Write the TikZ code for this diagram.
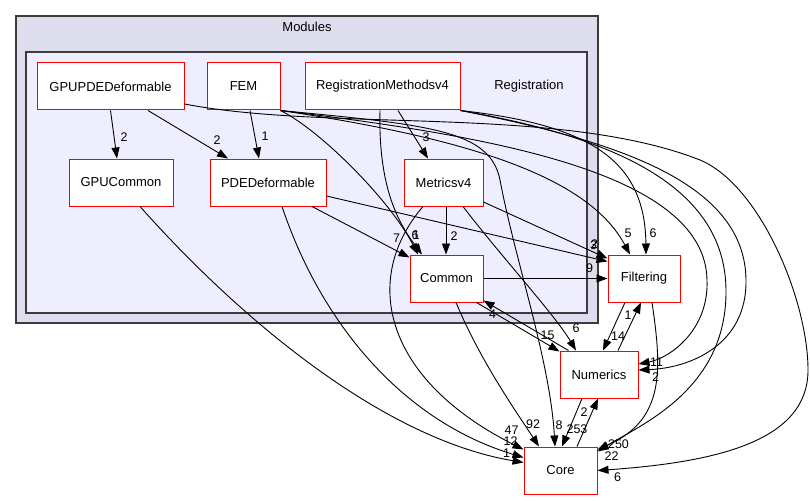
\documentclass[tikz,border=0pt]{standalone}
\usepackage{fontspec}
\setmainfont{Liberation Sans}
\usetikzlibrary{arrows.meta}
\usetikzlibrary{calc}

\begin{document}
\begin{tikzpicture}[x=1pt,y=-1pt,
    dirnode/.style={draw=dred,fill=white,line width=1pt,minimum height=47pt,inner sep=0pt,font=\fontsize{13}{15}\selectfont},
    cluster/.style={draw=dgray,line width=1.5pt,inner sep=0pt},
    cluslabel/.style={font=\fontsize{13}{15}\selectfont},
    edge/.style={-{Triangle[length=11pt,width=8pt]},line width=0.9pt},
    lbl/.style={pos=1,inner sep=0pt,font=\fontsize{12.5}{14}\selectfont}]
\definecolor{dred}{RGB}{255,0,0}
\definecolor{dgray}{RGB}{60,60,60}
\definecolor{outerfill}{RGB}{221,221,238}
\definecolor{innerfill}{RGB}{238,238,255}

\useasboundingbox (0,0) rectangle (810,500);

% clusters
\node[cluster,fill=outerfill,minimum width=582pt,minimum height=307pt] (modules) at (307,169.5) {};
\node[cluster,fill=innerfill,minimum width=561pt,minimum height=261pt] (registration) at (306.5,182.5) {};
\node[cluslabel] (modlabel) at (307,27) {Modules};
\node[cluslabel] (reglabel) at (529,86) {Registration};

% directories
\node[dirnode,minimum width=147pt] (gpupde) at (110.5,86.5) {GPUPDEDeformable};
\node[dirnode,minimum width=73pt] (fem) at (243.5,86.5) {FEM};
\node[dirnode,minimum width=155pt] (regm) at (382.5,86.5) {RegistrationMethodsv4};
\node[dirnode,minimum width=104pt] (gpucommon) at (121,182.5) {GPUCommon};
\node[dirnode,minimum width=116pt] (pde) at (268,182.5) {PDEDeformable};
\node[dirnode,minimum width=79pt] (metrics) at (443.5,182.5) {Metricsv4};
\node[dirnode,minimum width=73pt] (common) at (446.5,278.5) {Common};
\node[dirnode,minimum width=72pt] (filtering) at (644,278.5) {Filtering};
\node[dirnode,minimum width=78pt] (numerics) at (599,374.5) {Numerics};
\node[dirnode,minimum width=73pt] (core) at (560.5,470.5) {Core};

% inside Registration
\draw[edge] (gpupde.south) -- ([xshift=-4pt]gpucommon.north) node[lbl,xshift=7pt,yshift=21pt] {2};
\draw[edge] ([xshift=37.5pt]gpupde.south) -- ([xshift=-40pt]pde.north) node[lbl,xshift=-11pt,yshift=18pt] {2};
\draw[edge] ([xshift=6.5pt]fem.south) -- ([xshift=-9pt]pde.north) node[lbl,xshift=6pt,yshift=22pt] {1};
\draw[edge] ([xshift=15.5pt]regm.south) -- ([xshift=-15.5pt]metrics.north) node[lbl,xshift=-2pt,yshift=21pt] {3};
\draw[edge] ([xshift=2.5pt]metrics.south) -- ([xshift=-0.5pt]common.north) node[lbl,xshift=8pt,yshift=18pt] {2};
\draw[edge] ([xshift=44pt]pde.south) -- ([yshift=-3pt]common.north west) node[lbl,xshift=-13pt,yshift=19pt] {7};
\draw[edge] (fem.south east) .. controls (320,130) and (390,200) .. ([xshift=-28.5pt]common.north) node[lbl,xshift=-3pt,yshift=19pt] {6};
\draw[edge] ([xshift=-2.5pt]regm.south) .. controls (378,190) and (400,225) .. ([xshift=-24.5pt]common.north) node[lbl,xshift=-6pt,yshift=19pt] {1};

% to Filtering
\draw[edge] ([yshift=-13.5pt]pde.east) -- ([yshift=-7pt]filtering.north west) node[lbl,xshift=-14pt,yshift=16pt] {3};
\draw[edge] ([yshift=-19.5pt]metrics.east) -- ([yshift=-4pt]filtering.north west) node[lbl,xshift=-13pt,yshift=14pt] {2};
\draw[edge] (common.east) -- (filtering.west) node[lbl,xshift=-18pt,yshift=10pt] {9};
\draw[edge] (fem.south east) .. controls (480,140) and (590,180) .. ([xshift=-14pt]filtering.north) node[lbl,xshift=-2pt,yshift=21pt] {5};
\draw[edge] (regm.south east) .. controls (590,125) and (645,160) .. ([xshift=2pt]filtering.north) node[lbl,xshift=7pt,yshift=21pt] {6};

% long ones on the right
\draw[edge] (fem.south east) .. controls (480,135) and (705,170) .. (707,280) .. controls (709,330) and (670,358) .. ([yshift=10.5pt]numerics.east) node[lbl,xshift=18pt,yshift=2pt] {11};
\draw[edge] (regm.south east) .. controls (610,140) and (745,180) .. (746,280) .. controls (747,345) and (690,368) .. ([yshift=4.5pt]numerics.east) node[lbl,xshift=17pt,yshift=-7pt] {2};
\draw[edge] (regm.south east) .. controls (600,135) and (725,180) .. (726,290) .. controls (727,390) and (640,425) .. ([yshift=-5pt]core.north east) node[lbl,xshift=14pt,yshift=-5pt] {22};
\draw[edge] ([xshift=8pt]filtering.south) .. controls (662,370) and (665,420) .. ([yshift=-3pt]core.north east) node[lbl,xshift=21pt,yshift=5pt] {250};
\draw[edge] ([yshift=-17.5pt]gpupde.east) .. controls (330,132) and (560,105) .. (700,160) .. controls (760,185) and (808,300) .. (808,370) .. controls (808,440) and (720,462) .. (core.east) node[lbl,xshift=20pt,yshift=-7pt] {6};

% down to Core
\draw[edge] (fem.south east) .. controls (430,125) and (490,130) .. (500,180) .. controls (515,260) and (550,360) .. ([xshift=-5.5pt]core.north) node[lbl,xshift=4pt,yshift=21pt] {8};
\draw[edge] ([xshift=9.5pt]common.south) .. controls (480,360) and (515,410) .. ([xshift=-21.5pt]core.north) node[lbl,xshift=-6pt,yshift=22pt] {92};
\draw[edge] ([xshift=-20.5pt]metrics.south) .. controls (360,280) and (385,380) .. ([yshift=-3pt]core.north west) node[lbl,xshift=-12pt,yshift=19pt] {47};
\draw[edge] ([xshift=14pt]pde.south) .. controls (320,320) and (400,420) .. ([yshift=-11pt]core.north west) node[lbl,xshift=-13pt,yshift=16pt] {12};
\draw[edge] ([xshift=19pt]gpucommon.south) .. controls (250,330) and (390,440) .. ([yshift=-16pt]core.north west) node[lbl,xshift=-17pt,yshift=9pt] {1};

% Numerics
\draw[edge] ([xshift=-17pt]numerics.south) -- ([xshift=1.5pt]core.north) node[lbl,xshift=15pt,yshift=17pt] {253};
\draw[edge] ([xshift=16.5pt]core.north) -- ([xshift=-1pt]numerics.south) node[lbl,xshift=-14pt,yshift=-14pt] {2};
\draw[edge] ([xshift=-19pt]filtering.south) -- ([xshift=4pt]numerics.north) node[lbl,xshift=15pt,yshift=14pt] {14};
\draw[edge] ([xshift=19pt]numerics.north) -- ([xshift=-3pt]filtering.south) node[lbl,xshift=-13pt,yshift=-13pt] {1};
\draw[edge] ([xshift=-7pt]common.south east) -- ([yshift=-1pt]numerics.north west) node[lbl,xshift=-12pt,yshift=16pt] {15};
\draw[edge] ([xshift=9pt]numerics.north west) -- ([yshift=2pt]common.south east) node[lbl,xshift=9pt,yshift=-14pt] {4};
\draw[edge] ([xshift=19.5pt]metrics.south) .. controls (500,255) and (555,315) .. ([xshift=-23pt]numerics.north) node[lbl,xshift=0pt,yshift=22pt] {6};

\end{tikzpicture}
\end{document}
